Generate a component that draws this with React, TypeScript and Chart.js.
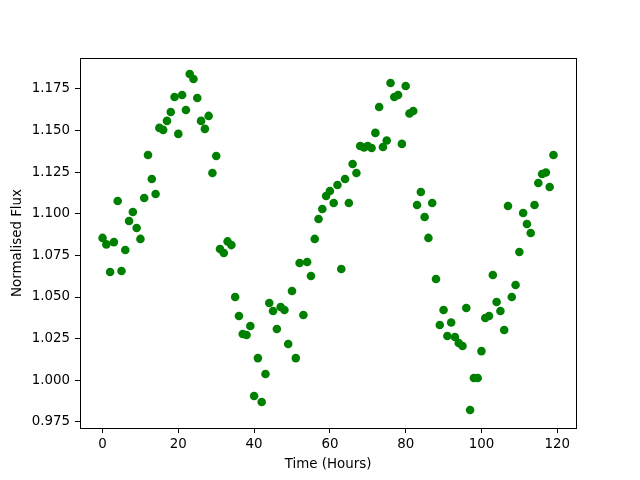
import React, { useEffect, useRef } from "react";
import { Chart, registerables } from "chart.js";

Chart.register(...registerables);

const hours = [
  0, 1, 2, 3, 4, 5, 6, 7, 8, 9, 10, 11, 12, 13, 14, 15, 16, 17, 18, 19,
  20, 21, 22, 23, 24, 25, 26, 27, 28, 29, 30, 31, 32, 33, 34, 35, 36, 37, 38, 39,
  40, 41, 42, 43, 44, 45, 46, 47, 48, 49, 50, 51, 52, 53, 54, 55, 56, 57, 58, 59,
  60, 61, 62, 63, 64, 65, 66, 67, 68, 69, 70, 71, 72, 73, 74, 75, 76, 77, 78, 79,
  80, 81, 82, 83, 84, 85, 86, 87, 88, 89, 90, 91, 92, 93, 94, 95, 96, 97, 98, 99,
  100, 101, 102, 103, 104, 105, 106, 107, 108, 109, 110, 111, 112, 113, 114, 115, 116, 117, 118, 119,
];

const flux = [
  1.0855, 1.0816, 1.065, 1.083, 1.1077, 1.0656, 1.0782, 1.0957, 1.1011, 1.0915,
  1.0849, 1.1095, 1.1353, 1.1209, 1.1119, 1.1516, 1.1504, 1.1558, 1.1612, 1.1702,
  1.148, 1.1714, 1.1624, 1.184, 1.181, 1.1696, 1.1558, 1.151, 1.1588, 1.1245,
  1.1347, 1.0788, 1.0764, 1.0834, 1.0812, 1.05, 1.0386, 1.0278, 1.0272, 1.0326,
  0.9905, 1.0133, 0.9869, 1.0037, 1.0464, 1.0416, 1.0308, 1.044, 1.0422, 1.0218,
  1.0536, 1.0133, 1.0704, 1.0392, 1.071, 1.0626, 1.0849, 1.0969, 1.1029, 1.1107,
  1.1137, 1.1065, 1.1173, 1.0668, 1.1209, 1.1065, 1.1299, 1.1245, 1.1407, 1.1398,
  1.1407, 1.1395, 1.1486, 1.1642, 1.1401, 1.144, 1.1786, 1.1702, 1.1714, 1.142,
  1.1768, 1.1603, 1.1618, 1.1053, 1.1131, 1.0981, 1.0855, 1.1065, 1.0608, 1.0332,
  1.0422, 1.0266, 1.0347, 1.026, 1.0224, 1.0206, 1.0434, 0.9821, 1.0013, 1.0013,
  1.0175, 1.0374, 1.0386, 1.0632, 1.047, 1.0416, 1.0302, 1.1047, 1.05, 1.0572,
  1.077, 1.1005, 1.0939, 1.0885, 1.1053, 1.1185, 1.1239, 1.1248, 1.1161, 1.1353,
];

const xTicks = [0, 20, 40, 60, 80, 100, 120];
const yTicks = [0.975, 1.0, 1.025, 1.05, 1.075, 1.1, 1.125, 1.15, 1.175];
const xLabel = "Time (Hours)";
const yLabel = "Normalised Flux";

const FONT = "'DejaVu Sans', sans-serif";
const FS = 13.4;

const frame = {
  id: "frame",
  afterDraw(chart: any) {
    const { ctx, chartArea } = chart;
    ctx.save();
    ctx.strokeStyle = "#000";
    ctx.lineWidth = 1;
    ctx.strokeRect(
      Math.round(chartArea.left) + 0.5,
      Math.round(chartArea.top) + 0.5,
      Math.round(chartArea.right - chartArea.left),
      Math.round(chartArea.bottom - chartArea.top)
    );
    ctx.restore();
  },
};

export default function App() {
  const ref = useRef<HTMLCanvasElement | null>(null);

  useEffect(() => {
    if (!ref.current) return;
    const chart = new Chart(ref.current, {
      type: "scatter",
      data: {
        datasets: [
          {
            data: hours.map((h, i) => ({ x: h, y: flux[i] })),
            backgroundColor: "#008000",
            borderWidth: 0,
            pointRadius: 4.3,
            pointHoverRadius: 4.3,
          },
        ],
      },
      options: {
        responsive: false,
        animation: false,
        layout: { padding: { top: 58, right: 64, left: 0, bottom: 0 } },
        plugins: { legend: { display: false }, tooltip: { enabled: false } },
        scales: {
          x: {
            type: "linear",
            min: -5.95,
            max: 124.95,
            afterFit: (s: any) => {
              s.height = 52;
            },
            afterBuildTicks: (s: any) => {
              s.ticks = xTicks.map((v) => ({ value: v }));
            },
            grid: {
              drawOnChartArea: false,
              drawTicks: true,
              tickLength: 5,
              color: "#000",
            },
            border: { display: true, color: "#000", width: 1 },
            ticks: {
              color: "#000",
              font: { family: FONT, size: FS },
              padding: 3,
              maxRotation: 0,
              callback: (v: any) => String(v),
            },
            title: {
              display: true,
              text: xLabel,
              color: "#000",
              font: { family: FONT, size: FS },
              padding: { top: 0, bottom: 7 },
            },
          },
          y: {
            type: "linear",
            min: 0.9713,
            max: 1.1936,
            afterFit: (s: any) => {
              s.width = 80;
            },
            afterBuildTicks: (s: any) => {
              s.ticks = yTicks.map((v) => ({ value: v }));
            },
            grid: {
              drawOnChartArea: false,
              drawTicks: true,
              tickLength: 5,
              color: "#000",
            },
            border: { display: true, color: "#000", width: 1 },
            ticks: {
              color: "#000",
              font: { family: FONT, size: FS },
              padding: 5,
              callback: (v: any) => Number(v).toFixed(3),
            },
            title: {
              display: true,
              text: yLabel,
              color: "#000",
              font: { family: FONT, size: FS },
              padding: { top: 9, bottom: 0 },
            },
          },
        },
      },
      plugins: [frame],
    });
    return () => chart.destroy();
  }, []);

  return (
    <div style={{ position: "fixed", left: 0, top: 0, width: 640, height: 480, background: "#fff" }}>
      <canvas ref={ref} width={640} height={480} style={{ display: "block", width: 640, height: 480 }} />
    </div>
  );
}
